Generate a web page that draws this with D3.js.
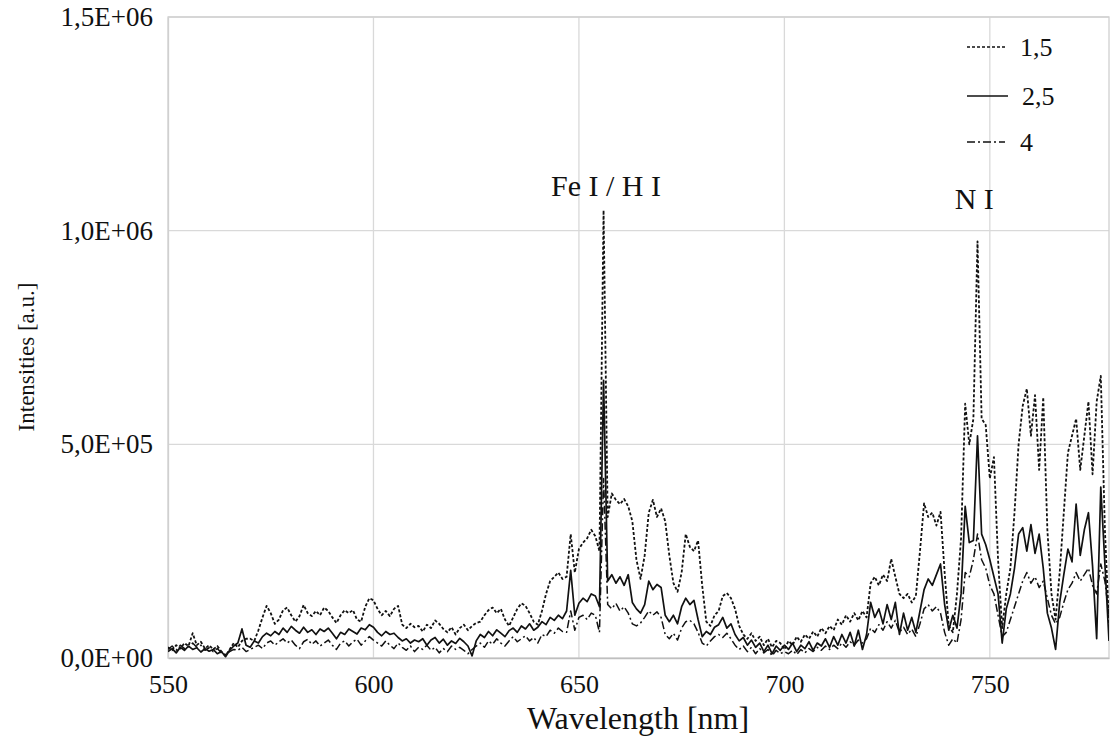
<!DOCTYPE html>
<html>
<head>
<meta charset="utf-8">
<script src="https://cdn.jsdelivr.net/npm/d3@7"></script>
<style>
  html, body { margin: 0; padding: 0; background: #fff; }
  svg { display: block; }
  text { font-family: "Liberation Serif", "Times New Roman", serif; fill: #111; }
</style>
</head>
<body>
<svg id="chart" width="1110" height="738"></svg>
<script>
// Wavelength grid [nm]: 550 ... 779, 1 nm step
const wavelengths = d3.range(550, 780, 1);

// Intensities in units of 1e3 a.u., one value per wavelength
const series15 = [
  25,18,30,22,35,28,58,30,38,22,
  30,20,28,15,5,20,35,25,40,45,
  45,40,65,95,122,105,80,90,112,118,
  100,85,98,124,105,98,110,100,118,110,
  95,82,100,112,105,112,90,85,120,140,
  135,115,100,110,98,115,122,78,70,80,
  72,75,62,78,70,88,80,68,60,72,
  55,70,78,65,75,82,85,100,112,118,
  105,115,90,75,95,115,128,122,105,85,
  78,110,150,180,190,200,185,190,290,200,
  255,270,280,300,285,250,1048,330,385,370,
  360,372,355,320,230,185,240,340,370,330,
  350,320,240,175,155,200,290,260,250,275,
  170,85,75,100,110,145,152,140,115,75,
  55,45,58,40,50,30,45,25,40,35,
  20,40,30,50,38,55,45,62,50,70,
  58,75,65,90,78,100,85,105,88,110,
  95,175,190,170,195,180,232,190,150,140,
  150,130,145,250,362,330,340,310,342,200,
  75,60,150,280,595,500,560,975,560,545,
  420,470,230,70,150,210,340,500,590,630,
  520,615,440,610,300,150,90,200,340,480,
  520,560,440,520,600,430,600,660,300,80
];
const series25 = [
  15,22,12,25,18,28,20,24,14,22,
  16,20,10,15,3,18,28,35,68,30,
  25,40,35,50,58,52,62,55,70,60,
  74,65,58,72,60,66,55,68,62,70,
  58,45,60,55,68,62,56,70,66,78,
  72,60,52,62,55,58,48,40,45,35,
  42,38,45,30,42,48,35,44,30,40,
  34,46,38,28,5,40,55,48,62,52,
  66,58,50,64,70,60,75,68,80,65,
  72,85,78,95,88,100,92,110,205,100,
  128,140,132,150,145,120,650,180,195,175,
  190,170,195,130,115,105,125,180,160,172,
  165,100,85,100,80,120,140,125,135,90,
  50,62,55,72,78,95,70,80,55,40,
  48,30,42,25,35,15,30,10,28,18,
  30,20,35,15,30,22,38,18,35,28,
  45,25,50,30,55,35,60,28,65,20,
  55,130,95,115,80,125,90,130,55,105,
  65,95,60,110,160,185,170,195,220,125,
  65,100,70,150,355,270,275,520,290,265,
  230,190,150,35,115,150,210,290,305,250,
  312,245,290,210,105,70,20,130,195,255,
  225,360,240,300,340,215,45,400,220,40
];
const series4 = [
  20,28,18,30,22,26,35,25,30,18,
  24,15,22,12,8,15,20,18,25,15,
  20,25,30,22,35,40,30,38,45,35,
  42,30,22,38,44,32,40,28,35,42,
  30,20,35,40,28,38,44,30,40,50,
  42,35,28,40,30,22,35,25,18,28,
  15,25,20,30,18,25,12,22,15,28,
  20,25,18,10,20,28,35,25,40,32,
  45,35,28,40,50,38,45,52,40,48,
  35,55,50,65,58,70,62,60,110,65,
  95,100,90,105,100,60,420,125,115,128,
  110,120,105,80,75,82,95,110,100,108,
  95,55,45,58,42,70,85,88,80,60,
  35,28,40,50,55,48,58,45,30,20,
  28,15,25,10,22,12,20,5,18,10,
  15,10,18,8,20,12,22,15,25,18,
  28,20,30,22,35,25,38,30,42,35,
  45,70,60,78,65,85,70,88,60,72,
  55,68,50,80,115,125,110,120,105,60,
  30,45,35,90,200,190,230,290,230,210,
  170,150,100,50,60,90,120,150,180,200,
  175,190,165,180,140,100,80,95,130,160,
  175,200,180,195,210,170,150,220,180,100
];

const seriesNames = ["1,5", "2,5", "4"];
const xTicks = [550, 600, 650, 700, 750];
const yTicks = [0, 5e5, 1e6, 1.5e6];
const yTickLabels = ["0,0E+00", "5,0E+05", "1,0E+06", "1,5E+06"];
const annotationLabels = ["Fe I / H I", "N I"];
const annotationX = [656.6, 746.2];
const annotationY = [1.08e6, 1.05e6];

const svg = d3.select("#chart");
const m = { left: 168, top: 17, right: 1109, bottom: 658 };

const x = d3.scaleLinear().domain([550, 779]).range([m.left, m.right]);
const y = d3.scaleLinear().domain([0, 1.5e6]).range([m.bottom, m.top]);

// grid
const grid = svg.append("g");
grid.selectAll("line.v").data(xTicks.slice(1)).enter().append("line")
  .attr("x1", d => x(d)).attr("x2", d => x(d))
  .attr("y1", m.top).attr("y2", m.bottom)
  .attr("stroke", "#d9d9d9").attr("stroke-width", 1.3);
grid.selectAll("line.h").data(yTicks.slice(1)).enter().append("line")
  .attr("x1", m.left).attr("x2", m.right)
  .attr("y1", d => y(d)).attr("y2", d => y(d))
  .attr("stroke", "#d9d9d9").attr("stroke-width", 1.3);
svg.append("rect")
  .attr("x", m.left).attr("y", m.top)
  .attr("width", m.right - m.left).attr("height", m.bottom - m.top)
  .attr("fill", "none").attr("stroke", "#d0d0d0").attr("stroke-width", 1.3);

// axes (labels only)
const xAxis = d3.axisBottom(x).tickValues(xTicks).tickSize(0).tickPadding(17).tickFormat(d3.format("d"));
const gx = svg.append("g").attr("transform", `translate(0,${m.bottom})`).call(xAxis);
gx.select(".domain").attr("stroke", "#bfbfbf").attr("stroke-width", 1.6);
gx.selectAll("text").attr("font-size", 26).attr("font-family", "Liberation Serif").attr("fill", "#111");

const yAxis = d3.axisLeft(y).tickValues(yTicks).tickSize(0).tickPadding(15)
  .tickFormat((d, i) => yTickLabels[i]);
const gy = svg.append("g").attr("transform", `translate(${m.left},0)`).call(yAxis);
gy.select(".domain").attr("stroke", "#d0d0d0").attr("stroke-width", 1.3);
gy.selectAll("text").attr("font-size", 27).attr("font-family", "Liberation Serif").attr("fill", "#111");

// axis titles
svg.append("text").attr("x", 638).attr("y", 729).attr("text-anchor", "middle")
  .attr("font-size", 32).text("Wavelength [nm]");
svg.append("text").attr("transform", "translate(34,357) rotate(-90)").attr("text-anchor", "middle")
  .attr("font-size", 23).text("Intensities [a.u.]");

// series
const styles = [
  { dash: "3,2", width: 1.8 },
  { dash: null, width: 1.7 },
  { dash: "8,3,2,3", width: 1.5 }
];
const allSeries = [series15, series25, series4];
const line = d3.line().x((d, i) => x(wavelengths[i])).y(d => y(d * 1000));
const clip = svg.append("clipPath").attr("id", "clip").append("rect")
  .attr("x", m.left).attr("y", m.top).attr("width", m.right - m.left).attr("height", m.bottom - m.top);
const plot = svg.append("g").attr("clip-path", "url(#clip)");
[2, 0, 1].forEach(k => {
  plot.append("path").datum(allSeries[k])
    .attr("d", line)
    .attr("fill", "none")
    .attr("stroke", "#111")
    .attr("stroke-width", styles[k].width)
    .attr("stroke-dasharray", styles[k].dash)
    .attr("stroke-linejoin", "round");
});

// annotations
svg.selectAll("text.ann").data(annotationLabels).enter().append("text")
  .attr("class", "ann")
  .attr("x", (d, i) => x(annotationX[i]))
  .attr("y", (d, i) => y(annotationY[i]))
  .attr("text-anchor", "middle").attr("font-size", 30).text(d => d);

// legend
const legY = [47, 96, 142];
const leg = svg.append("g");
seriesNames.forEach((name, k) => {
  leg.append("line").attr("x1", 967).attr("x2", k === 1 ? 1008 : 1005)
    .attr("y1", legY[k]).attr("y2", legY[k])
    .attr("stroke", "#111").attr("stroke-width", 1.3)
    .attr("stroke-dasharray", k === 0 ? "3,2" : styles[k].dash);
  leg.append("text").attr("x", k === 1 ? 1022 : 1020).attr("y", legY[k] + 9)
    .attr("font-size", 26).text(name);
});
</script>
</body>
</html>
